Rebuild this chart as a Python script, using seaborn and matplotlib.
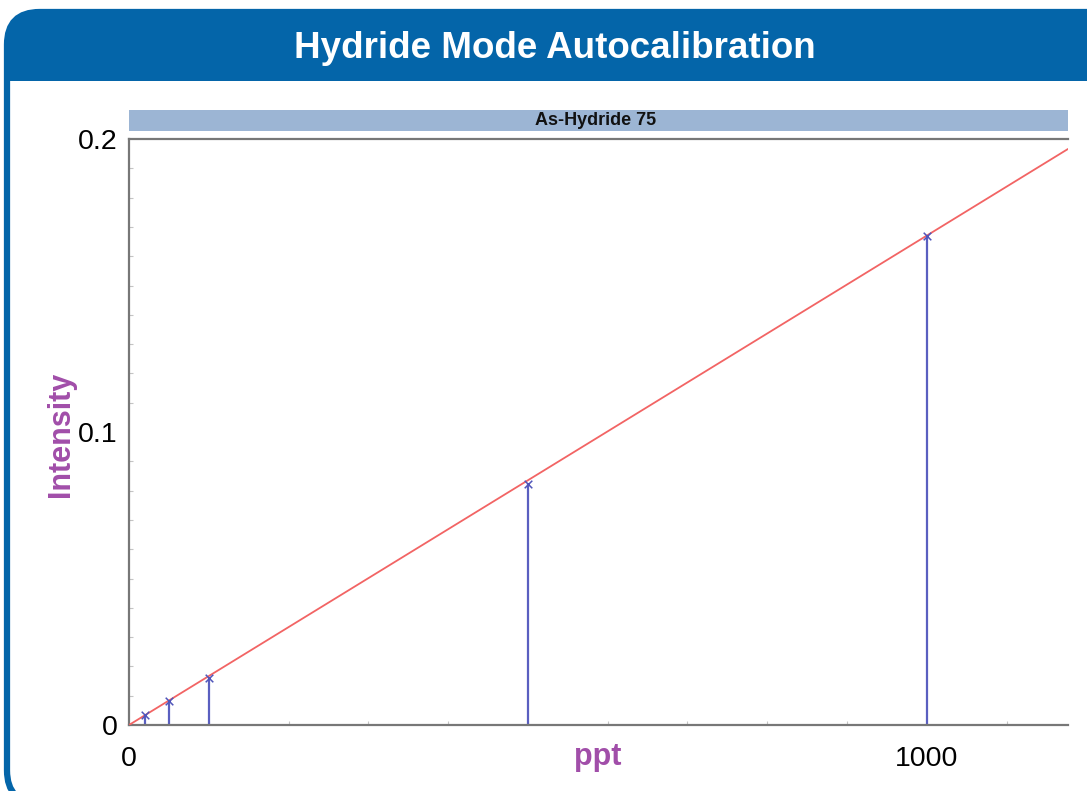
import matplotlib
matplotlib.use("Agg")
import matplotlib.pyplot as plt
from matplotlib.patches import FancyBboxPatch, Rectangle
from matplotlib.ticker import MultipleLocator, FixedLocator
import seaborn as sns
import pandas as pd

# Calibration standards (ppt) and measured intensities
conc_ppt = [20, 50, 100, 500, 1000]
intensity = [0.0033, 0.0083, 0.0160, 0.0822, 0.1668]

# Fitted calibration line
fit_x = [0, 1177]
fit_y = [0, 0.1966]

x_ticks = [0, 1000]
x_tick_labels = ["0", "1000"]
y_ticks = [0, 0.1, 0.2]
y_tick_labels = ["0", "0.1", "0.2"]

title = "Hydride Mode Autocalibration"
panel = "As-Hydride 75"

W, H = 1087, 791
sns.set_theme(style="white")
plt.rcParams["font.family"] = ["Liberation Sans", "DejaVu Sans"]

fig = plt.figure(figsize=(W / 100, H / 100), dpi=100)
fig.patch.set_facecolor("white")

blue = "#0465A9"
# Outer rounded frame
frame = FancyBboxPatch((7 / W, -12 / H), (W + 40) / W, (H - 12 + 12) / H,
                       boxstyle="round,pad=0,rounding_size=0.03",
                       transform=fig.transFigure, facecolor="white",
                       edgecolor=blue, linewidth=4.5, mutation_aspect=W / H,
                       zorder=0)
fig.patches.append(frame)
# Header band
header = FancyBboxPatch((7 / W, (H - 81) / H), (W + 40) / W, 69 / H,
                        boxstyle="round,pad=0,rounding_size=0.03",
                        transform=fig.transFigure, facecolor=blue,
                        edgecolor=blue, linewidth=0, mutation_aspect=W / H,
                        zorder=1)
fig.patches.append(header)
fig.patches.append(Rectangle((7 / W, (H - 81) / H), (W + 40) / W, 30 / H,
                             transform=fig.transFigure, facecolor=blue,
                             edgecolor="none", zorder=1))
fig.text(555 / W, 1 - 48 / H, title, color="white", fontsize=26.5,
         fontweight="bold", ha="center", va="center", zorder=2)

# Plot area
left, right, top, bottom = 129, 1068, 139, 725
ax = fig.add_axes([left / W, 1 - bottom / H, (right - left) / W, (bottom - top) / H])
ax.set_zorder(5)
ax.set_facecolor("white")

# Panel strip above the plot
fig.patches.append(Rectangle((left / W, 1 - 131 / H), (right - left) / W, 21 / H,
                             transform=fig.transFigure, facecolor="#9CB5D4",
                             edgecolor="none", zorder=2))
fig.text(596 / W, 1 - 120.5 / H, panel, fontsize=13, fontweight="bold",
         color="#111111", ha="center", va="center", zorder=3)

df = pd.DataFrame({"ppt": conc_ppt, "Intensity": intensity})
fit = pd.DataFrame({"ppt": fit_x, "Intensity": fit_y})

sns.lineplot(data=fit, x="ppt", y="Intensity", ax=ax, color="#F26464",
             linewidth=1.3, zorder=3)
ax.vlines(df["ppt"], 0, df["Intensity"], color="#5A5FC0", linewidth=1.6, zorder=2)
sns.scatterplot(data=df, x="ppt", y="Intensity", ax=ax, marker="x",
                color="#5055BA", s=30, linewidth=1.1, zorder=4)

ax.set_xlim(0, 1177)
ax.set_ylim(0, 0.2)

ax.xaxis.set_major_locator(FixedLocator(x_ticks))
ax.set_xticklabels(x_tick_labels)
ax.yaxis.set_major_locator(FixedLocator(y_ticks))
ax.set_yticklabels(y_tick_labels)
ax.xaxis.set_minor_locator(MultipleLocator(100))
ax.yaxis.set_minor_locator(MultipleLocator(0.01))
ax.tick_params(axis="both", which="major", length=0, labelsize=20.5,
               labelcolor="black")
ax.tick_params(axis="x", which="major", pad=15)
ax.tick_params(axis="y", which="major", pad=8)
ax.tick_params(axis="both", which="minor", direction="in", length=3,
               width=0.8, color="#C4C4C4", bottom=True, left=True)

for side in ["left", "bottom", "top"]:
    ax.spines[side].set_visible(True)
    ax.spines[side].set_color("#777777")
    ax.spines[side].set_linewidth(1.6)
ax.spines["right"].set_visible(False)

ax.set_xlabel("ppt", fontsize=22, fontweight="bold", color="#A14EA9")
ax.set_ylabel("Intensity", fontsize=22, fontweight="bold", color="#A14EA9")
ax.xaxis.set_label_coords((598 - left) / (right - left), -(757 - bottom) / (bottom - top))
ax.yaxis.set_label_coords(-(129 - 61) / (right - left), (bottom - 434) / (bottom - top))
ax.xaxis.label.set_va("center")
ax.yaxis.label.set_va("center")
ax.legend_ = None

fig.savefig("out.png", dpi=100)
